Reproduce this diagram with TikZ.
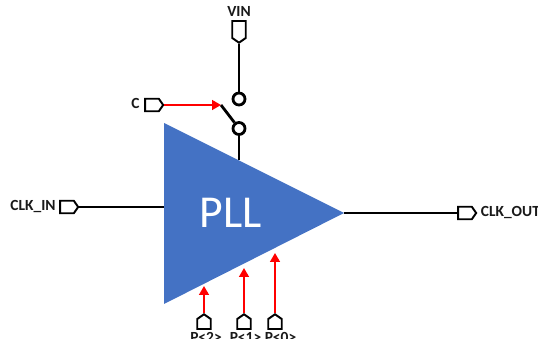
\documentclass[tikz,border=0pt]{standalone}
\usepackage{fontspec}
\setmainfont{Carlito}
\usetikzlibrary{shapes.symbols, arrows.meta}

\definecolor{pllblue}{HTML}{4472C4}

\tikzset{
    wire/.style={line width=1.6pt},
    ctrl/.style={line width=1pt, color=red, -{Triangle[length=5pt, width=5.5pt]}},
    pinbox/.style={draw, line width=1.1pt, fill=white, signal, inner sep=0pt, minimum width=0.36cm, minimum height=0.25cm, signal pointer angle=110},
    pinup/.style={pinbox, signal to=north, minimum width=0.27cm, minimum height=0.2cm},
    contact/.style={draw, line width=1.6pt, circle, inner sep=0pt, minimum size=0.24cm},
    pinlabel/.style={font=\bfseries\fontsize{8.8}{8.8}\selectfont, inner sep=0pt, text=black!90}
}

\begin{document}
\begin{tikzpicture}[x=0.02cm, y=-0.02cm]

    \useasboundingbox (0, 0) rectangle (538, 344);
    \clip (0, 0) rectangle (538, 338.5);

    \fill[pllblue] (164, 123) -- (344, 213) -- (164, 304) -- cycle;
    \node[font=\fontsize{26}{26}\selectfont, text=white, inner sep=0pt] (pll) at (231, 213) {PLL};

    \coordinate (pll_vin) at (239, 160);
    \coordinate (pll_in) at (164, 207);
    \coordinate (pll_out) at (344, 213);
    \coordinate (lever) at (221, 105);
    \coordinate (pll_p2) at (204, 286);
    \coordinate (pll_p1) at (244, 268);
    \coordinate (pll_p0) at (275, 253);

    \node[contact] (sw_top) at (239, 99) {};
    \node[contact] (sw_bot) at (239, 128.5) {};

    \node[pinbox, signal to=south, minimum width=0.27cm, minimum height=0.34cm] (pin_vin) at (239, 29.5) {};
    \node[pinbox, signal to=east] (pin_c) at (152, 105) {};
    \node[pinbox, signal to=east] (pin_in) at (67, 207) {};
    \node[pinbox, signal to=east] (pin_out) at (465, 213) {};
    \node[pinup] (pin_p2) at (204, 324) {};
    \node[pinup] (pin_p1) at (244, 324) {};
    \node[pinup] (pin_p0) at (275, 324) {};

    \node[pinlabel, anchor=base] (lab_vin) at (239, 17) {VIN};
    \node[pinlabel, anchor=base east] (lab_c) at (140, 109) {C};
    \node[pinlabel, anchor=base east] (lab_in) at (56, 211) {CLK\_IN};
    \node[pinlabel, anchor=base west] (lab_out) at (480.5, 217) {CLK\_OUT};
    \node[pinlabel, anchor=base] (lab_p2) at (206, 343) {P<2>};
    \node[pinlabel, anchor=base] (lab_p1) at (245.5, 343) {P<1>};
    \node[pinlabel, anchor=base] (lab_p0) at (280.5, 343) {P<0>};

    \draw[wire] (pin_vin.south) -- (sw_top);
    \draw[wire] (sw_bot) -- (lever);
    \draw[wire] (sw_bot) -- (pll_vin);
    \draw[wire] (pin_in.east) -- (pll_in);
    \draw[wire] (pll_out) -- (pin_out.west);

    \draw[ctrl] (pin_c.east) -- (lever);
    \draw[ctrl] (pin_p2.north) -- (pll_p2);
    \draw[ctrl] (pin_p1.north) -- (pll_p1);
    \draw[ctrl] (pin_p0.north) -- (pll_p0);

\end{tikzpicture}
\end{document}
